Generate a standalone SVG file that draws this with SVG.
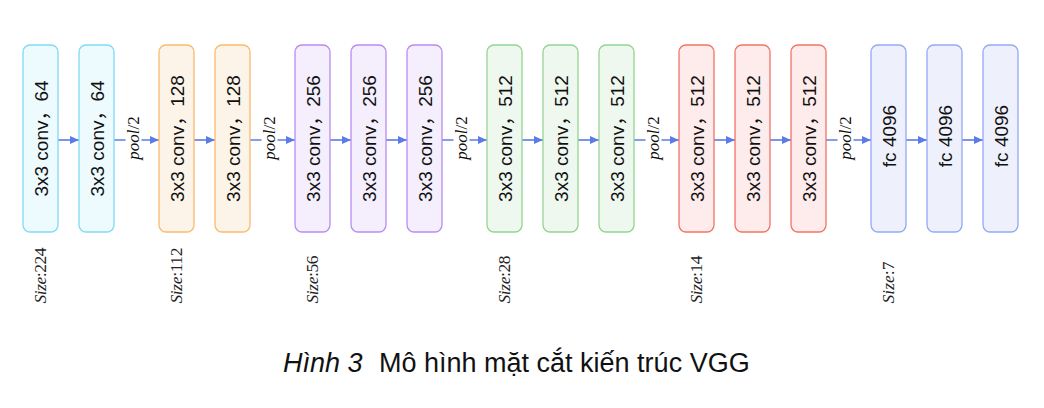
<svg xmlns="http://www.w3.org/2000/svg" width="1044" height="408" viewBox="0 0 1044 408">
<style>
.box{stroke-width:1.3}
.c1{fill:#edfafe;stroke:#80dbf6}
.c2{fill:#fdf4e9;stroke:#fbbb6c}
.c3{fill:#f4eefd;stroke:#b88df2}
.c4{fill:#eff8ef;stroke:#93d493}
.c5{fill:#fdeceb;stroke:#f27465}
.c6{fill:#eef1fc;stroke:#93a9f6}
.lbl{font-family:"Liberation Sans","Noto Sans CJK SC",sans-serif;font-size:19px;fill:#111}
.edge{stroke:#5b7be8;stroke-width:1.6;fill:none}
.pool{font-family:"Liberation Serif",serif;font-size:17px;fill:#111}
.size{font-family:"Liberation Serif",serif;font-size:17.5px;fill:#222}
.cap{font-family:"Liberation Sans",sans-serif;font-size:27px;fill:#111}
</style>
<defs>
<marker id="ah" markerUnits="userSpaceOnUse" markerWidth="10" markerHeight="9" refX="9" refY="4" orient="auto">
<path d="M0,0 L9,4 L0,8 z" fill="#5b7be8"/>
</marker>
<rect id="b" width="35" height="187" rx="7" ry="7"/>
</defs>
<rect width="1044" height="408" fill="#fff"/>

<g id="connectors">
<line class="edge" x1="58" y1="140" x2="79" y2="140" marker-end="url(#ah)"/>
<line class="edge" x1="114" y1="140" x2="159" y2="140" marker-end="url(#ah)"/>
<line class="edge" x1="194" y1="140" x2="215" y2="140" marker-end="url(#ah)"/>
<line class="edge" x1="250" y1="140" x2="295" y2="140" marker-end="url(#ah)"/>
<line class="edge" x1="330" y1="140" x2="351" y2="140" marker-end="url(#ah)"/>
<line class="edge" x1="386" y1="140" x2="407" y2="140" marker-end="url(#ah)"/>
<line class="edge" x1="442" y1="140" x2="487" y2="140" marker-end="url(#ah)"/>
<line class="edge" x1="522" y1="140" x2="543" y2="140" marker-end="url(#ah)"/>
<line class="edge" x1="578" y1="140" x2="599" y2="140" marker-end="url(#ah)"/>
<line class="edge" x1="634" y1="140" x2="679" y2="140" marker-end="url(#ah)"/>
<line class="edge" x1="714" y1="140" x2="735" y2="140" marker-end="url(#ah)"/>
<line class="edge" x1="770" y1="140" x2="791" y2="140" marker-end="url(#ah)"/>
<line class="edge" x1="826" y1="140" x2="871" y2="140" marker-end="url(#ah)"/>
<line class="edge" x1="906" y1="140" x2="927" y2="140" marker-end="url(#ah)"/>
<line class="edge" x1="962" y1="140" x2="983" y2="140" marker-end="url(#ah)"/>
<g id="pool-labels">
<rect x="125.5" y="114" width="16" height="50" fill="#fff"/>
<text class="pool" transform="translate(139,138) rotate(-90)" text-anchor="middle"><tspan font-style="italic">pool</tspan>/2</text>
<rect x="261.5" y="114" width="16" height="50" fill="#fff"/>
<text class="pool" transform="translate(275,138) rotate(-90)" text-anchor="middle"><tspan font-style="italic">pool</tspan>/2</text>
<rect x="453.5" y="114" width="16" height="50" fill="#fff"/>
<text class="pool" transform="translate(467,138) rotate(-90)" text-anchor="middle"><tspan font-style="italic">pool</tspan>/2</text>
<rect x="645.5" y="114" width="16" height="50" fill="#fff"/>
<text class="pool" transform="translate(659,138) rotate(-90)" text-anchor="middle"><tspan font-style="italic">pool</tspan>/2</text>
<rect x="837.5" y="114" width="16" height="50" fill="#fff"/>
<text class="pool" transform="translate(851,138) rotate(-90)" text-anchor="middle"><tspan font-style="italic">pool</tspan>/2</text>
</g>
</g>

<g id="n1"><use href="#b" x="23" y="45" class="box c1"/><text class="lbl" transform="translate(47.5,138.5) rotate(-90)" text-anchor="middle">3x3 conv，64</text></g>
<g id="n2"><use href="#b" x="79" y="45" class="box c1"/><text class="lbl" transform="translate(103.5,138.5) rotate(-90)" text-anchor="middle">3x3 conv，64</text></g>
<g id="n3"><use href="#b" x="159" y="45" class="box c2"/><text class="lbl" transform="translate(183.5,138.5) rotate(-90)" text-anchor="middle">3x3 conv，128</text></g>
<g id="n4"><use href="#b" x="215" y="45" class="box c2"/><text class="lbl" transform="translate(239.5,138.5) rotate(-90)" text-anchor="middle">3x3 conv，128</text></g>
<g id="n5"><use href="#b" x="295" y="45" class="box c3"/><text class="lbl" transform="translate(319.5,138.5) rotate(-90)" text-anchor="middle">3x3 conv，256</text></g>
<g id="n6"><use href="#b" x="351" y="45" class="box c3"/><text class="lbl" transform="translate(375.5,138.5) rotate(-90)" text-anchor="middle">3x3 conv，256</text></g>
<g id="n7"><use href="#b" x="407" y="45" class="box c3"/><text class="lbl" transform="translate(431.5,138.5) rotate(-90)" text-anchor="middle">3x3 conv，256</text></g>
<g id="n8"><use href="#b" x="487" y="45" class="box c4"/><text class="lbl" transform="translate(511.5,138.5) rotate(-90)" text-anchor="middle">3x3 conv，512</text></g>
<g id="n9"><use href="#b" x="543" y="45" class="box c4"/><text class="lbl" transform="translate(567.5,138.5) rotate(-90)" text-anchor="middle">3x3 conv，512</text></g>
<g id="n10"><use href="#b" x="599" y="45" class="box c4"/><text class="lbl" transform="translate(623.5,138.5) rotate(-90)" text-anchor="middle">3x3 conv，512</text></g>
<g id="n11"><use href="#b" x="679" y="45" class="box c5"/><text class="lbl" transform="translate(703.5,138.5) rotate(-90)" text-anchor="middle">3x3 conv，512</text></g>
<g id="n12"><use href="#b" x="735" y="45" class="box c5"/><text class="lbl" transform="translate(759.5,138.5) rotate(-90)" text-anchor="middle">3x3 conv，512</text></g>
<g id="n13"><use href="#b" x="791" y="45" class="box c5"/><text class="lbl" transform="translate(815.5,138.5) rotate(-90)" text-anchor="middle">3x3 conv，512</text></g>
<g id="n14"><use href="#b" x="871" y="45" class="box c6"/><text class="lbl" transform="translate(895.5,136) rotate(-90)" text-anchor="middle">fc 4096</text></g>
<g id="n15"><use href="#b" x="927" y="45" class="box c6"/><text class="lbl" transform="translate(951.5,136) rotate(-90)" text-anchor="middle">fc 4096</text></g>
<g id="n16"><use href="#b" x="983" y="45" class="box c6"/><text class="lbl" transform="translate(1007.5,136) rotate(-90)" text-anchor="middle">fc 4096</text></g>

<g id="sizes">
<text class="size" transform="translate(46,303.5) rotate(-90)" textLength="56" lengthAdjust="spacing"><tspan font-style="italic">Size</tspan>:224</text>
<text class="size" transform="translate(182,303.5) rotate(-90)" textLength="56" lengthAdjust="spacing"><tspan font-style="italic">Size</tspan>:112</text>
<text class="size" transform="translate(318,303.5) rotate(-90)" textLength="48" lengthAdjust="spacing"><tspan font-style="italic">Size</tspan>:56</text>
<text class="size" transform="translate(510,303.5) rotate(-90)" textLength="48" lengthAdjust="spacing"><tspan font-style="italic">Size</tspan>:28</text>
<text class="size" transform="translate(702,303.5) rotate(-90)" textLength="48" lengthAdjust="spacing"><tspan font-style="italic">Size</tspan>:14</text>
<text class="size" transform="translate(894,303.5) rotate(-90)" textLength="42" lengthAdjust="spacing"><tspan font-style="italic">Size</tspan>:7</text>
</g>

<g id="caption">
<text class="cap" x="283" y="372" font-style="italic">Hình 3</text>
<text class="cap" x="379" y="372">Mô hình mặt cắt kiến trúc VGG</text>
</g>
</svg>
